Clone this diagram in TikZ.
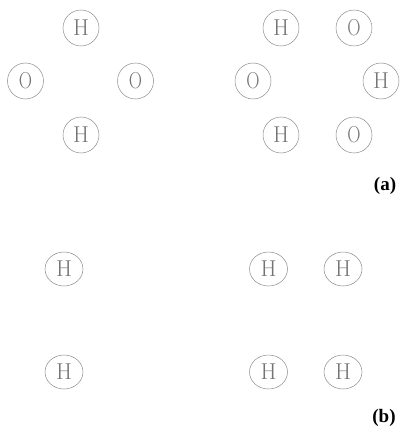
\documentclass[tikz,border=0pt]{standalone}
\usepackage{fontspec}
\newfontfamily\labfont{Liberation Serif}[BoldFont={Liberation Serif Bold}]
\usetikzlibrary{shapes.geometric}
\tikzset{
  atom/.style={circle, draw=black!45, line width=0.5pt, minimum size=36pt, inner sep=0pt,
    text=black!55, font=\fontsize{23}{23}\selectfont},
  atomb/.style={ellipse, draw=black!45, line width=0.5pt, minimum width=38pt, minimum height=34pt, inner sep=0pt,
    text=black!55, font=\fontsize{23}{23}\selectfont},
  lab/.style={font=\fontsize{19}{19}\labfont\bfseries\selectfont, inner sep=0pt}
}
\newcommand{\Oat}{\scalebox{0.8}[1]{O}}
\begin{document}
\begin{tikzpicture}[x=1pt,y=-1pt]
\useasboundingbox (0,0) rectangle (403,436);
% (a) left group
\node[atom] (h1) at (81,28) {H};
\node[atom] (o1) at (25.5,81) {\Oat};
\node[atom] (o2) at (135.5,81) {\Oat};
\node[atom] (h2) at (81,135) {H};
% (a) right group
\node[atom] (h3) at (281,28) {H};
\node[atom] (o3) at (354,28) {\Oat};
\node[atom] (o4) at (253,81) {\Oat};
\node[atom] (h4) at (381,81) {H};
\node[atom] (h5) at (281,135) {H};
\node[atom] (o5) at (354,135) {\Oat};
\node[lab] (la) at (385,186) {(a)};
% (b)
\node[atomb] (b1) at (64,269) {H};
\node[atomb] (b2) at (64,372) {H};
\node[atomb] (b3) at (268.5,269) {H};
\node[atomb] (b4) at (343,269) {H};
\node[atomb] (b5) at (268.5,372) {H};
\node[atomb] (b6) at (343,372) {H};
\node[lab] (lb) at (384,418) {(b)};
\end{tikzpicture}
\end{document}
